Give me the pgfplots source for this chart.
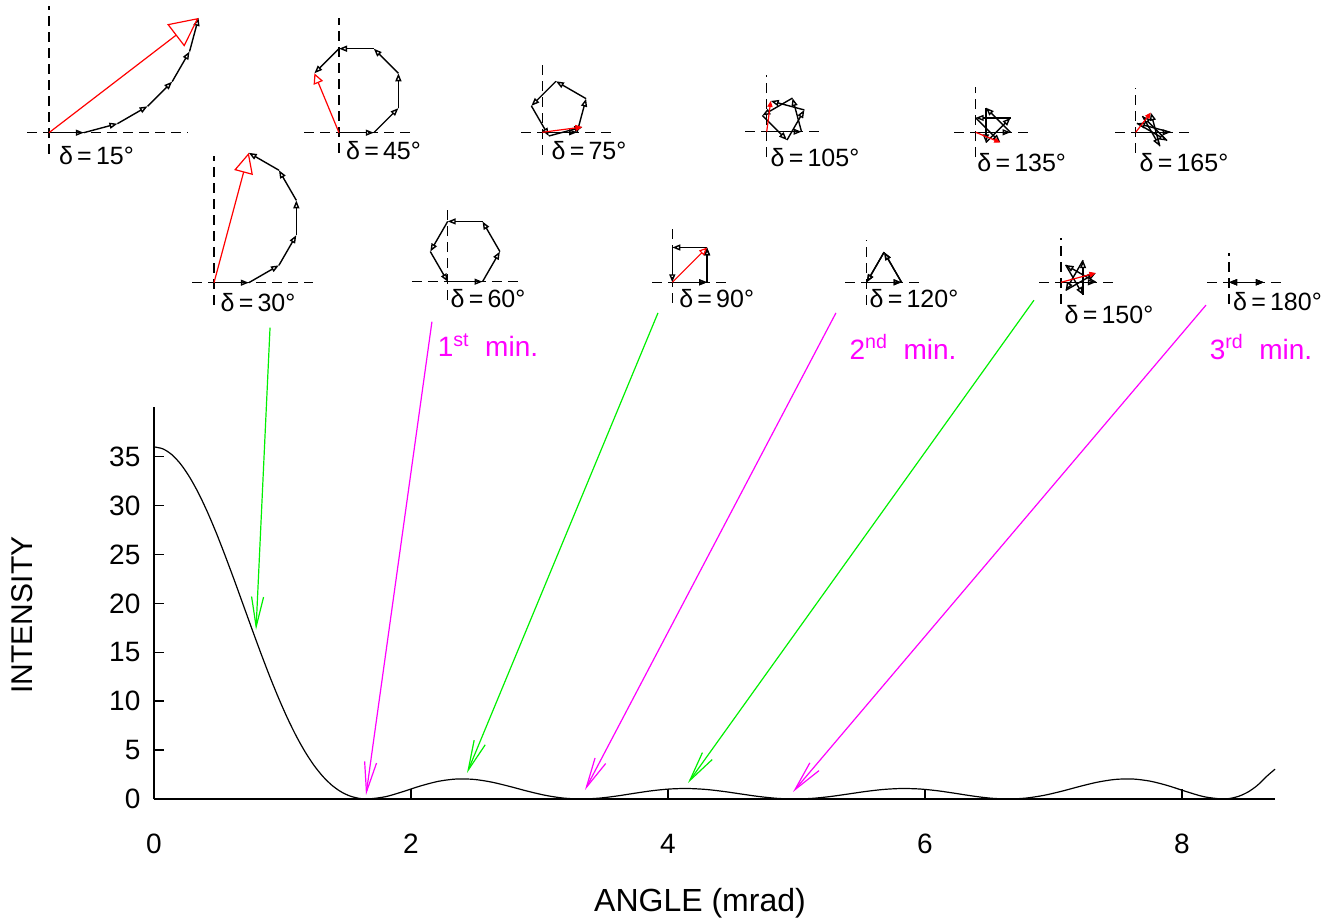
\documentclass[border=0pt]{standalone}
\usepackage{fontspec}
\setmainfont{Liberation Sans}
\usepackage{pgfplots}
\pgfplotsset{compat=1.18}
\usetikzlibrary{arrows.meta}
\definecolor{mag}{RGB}{255,0,255}
\definecolor{grn}{RGB}{0,240,0}
\definecolor{rd}{RGB}{255,0,0}
\pgfplotsset{
  blk/.style={black, line width=0.7pt, quiver={u=\thisrow{u},v=\thisrow{v}}, -{Triangle[open,length=4pt,width=3pt]}},
  rq/.style={rd, line width=0.6pt, quiver={u=\thisrow{u},v=\thisrow{v}}},
}
% #1 origin x (px), #2 origin y (px), #3..#6 extents of the dashed cross (phasor units), #7 plots
\newcommand\phasor[7]{%
\begin{axis}[at={({#1*0.5pt+(#3)*17.4pt},{(922-#2)*0.5pt+(#5)*17.4pt})}, anchor=south west,
  x=17.4pt, y=17.4pt, xmin=#3, xmax=#4, ymin=#5, ymax=#6, hide axis, clip=false, enlargelimits=false]
\addplot[black, line width=0.65pt, dash pattern=on 5pt off 3pt] coordinates {(#3,0) (#4,0)};
\addplot[black, line width=0.65pt, dash pattern=on 5pt off 3pt] coordinates {(0,#5) (0,#6)};
#7
\end{axis}}
\newcommand\dlab[3]{\node[font=\fontsize{12.5}{12.5}\selectfont, inner sep=0pt] at (#1pt,#2pt) {δ\,=\,#3°};}
\newcommand\mlab[4]{\node[font=\fontsize{14}{14}\selectfont, text=mag, inner sep=0pt] at (#1pt,#2pt) {#3\textsuperscript{#4}\ \ min.};}

\begin{document}
\begin{tikzpicture}
\path[use as bounding box] (0,0) rectangle (661pt,461pt);
\begin{axis}[at={(77pt,61.5pt)}, anchor=south west, width=560.5pt, height=196pt, scale only axis,
  xmin=0, xmax=8.724, ymin=0, ymax=40.08,
  axis x line*=bottom, axis y line*=left, axis line style={line width=0.7pt},
  xtick={0,2,4,6,8}, ytick={0,5,...,35}, tick align=inside, major tick length=5pt,
  tick style={black, line width=0.7pt},
  ticklabel style={font=\fontsize{14}{16}\selectfont},
  /pgf/number format/assume math mode=true,
  xticklabel shift=14pt, yticklabel shift=3.3pt,
  clip=false]
\addplot[black, line width=0.6pt, smooth] table {
x y
0 36
0.0693 35.80
0.1385 35.21
0.2078 34.24
0.2770 32.91
0.3463 31.27
0.4155 29.35
0.4848 27.20
0.5540 24.87
0.6233 22.43
0.6925 19.92
0.7618 17.40
0.8310 14.93
0.9003 12.55
0.9695 10.32
1.0388 8.261
1.1080 6.411
1.1773 4.791
1.2465 3.414
1.3158 2.285
1.3850 1.400
1.4543 0.7486
1.5235 0.3142
1.5928 0.0736
1.6620 0
1.8006 0.2320
1.9391 0.7599
2.0776 1.349
2.2161 1.8152
2.3546 2.0442
2.4931 2.0
2.6316 1.7164
2.7701 1.2781
2.9086 0.794
3.0471 0.3726
3.1856 0.0942
3.3241 0
3.4626 0.0851
3.6011 0.3044
3.7396 0.586
3.8781 0.8493
4.0166 1.0258
4.1551 1.072
4.2936 0.9789
4.4321 0.7733
4.5706 0.509
4.7091 0.2519
4.8476 0.0671
4.9861 0
5.1247 0.0671
5.2632 0.2519
5.4017 0.509
5.5402 0.7733
5.6787 0.9789
5.8172 1.072
5.9557 1.0258
6.0942 0.8493
6.2327 0.586
6.3712 0.3044
6.5097 0.0851
6.6482 0
6.7867 0.0942
6.9252 0.3726
7.0637 0.794
7.2022 1.2781
7.3407 1.7164
7.4792 2.0
7.6177 2.0442
7.7562 1.8152
7.8947 1.349
8.0332 0.7599
8.1717 0.2320
8.3102 0
8.3795 0.0736
8.4488 0.3142
8.5180 0.7486
8.5873 1.400
8.6565 2.285
8.7240 3.05
};
% annotation arrows
\addplot[grn, line width=0.6pt, -{Straight Barb[length=15pt,width=6pt]}] coordinates {(0.903,48.2) (0.794,17.3)};
\addplot[mag, line width=0.6pt, -{Straight Barb[length=15pt,width=6pt]}] coordinates {(2.163,48.8) (1.650,0.41)};
\addplot[grn, line width=0.6pt, -{Straight Barb[length=15pt,width=6pt]}] coordinates {(3.922,49.7) (2.436,2.66)};
\addplot[mag, line width=0.6pt, -{Straight Barb[length=15pt,width=6pt]}] coordinates {(5.307,49.7) (3.354,0.92)};
\addplot[grn, line width=0.6pt, -{Straight Barb[length=15pt,width=6pt]}] coordinates {(6.848,51.0) (4.156,1.64)};
\addplot[mag, line width=0.6pt, -{Straight Barb[length=15pt,width=6pt]}] coordinates {(8.187,50.5) (4.973,0.72)};
\end{axis}

% delta = 15
\phasor{49}{132.7}{-0.63}{4.0}{-0.61}{3.64}{
\addplot[blk] table[row sep=\\]{x y u v\\0 0 1 0\\1 0 0.9659 0.2588\\1.9659 0.2588 0.8660 0.5\\2.8319 0.7588 0.7071 0.7071\\3.5390 1.4659 0.5 0.8660\\4.0390 2.3319 0.2588 0.9659\\};
\addplot[rq, -{Triangle[open,length=14.4pt,width=14pt]}] table[row sep=\\]{x y u v\\0 0 4.2978 3.2978\\};
}
% delta = 45
\phasor{339}{132.7}{-1.0}{2.1}{-0.58}{3.3}{
\addplot[blk] table[row sep=\\]{x y u v\\0 0 1 0\\1 0 0.7071 0.7071\\1.7071 0.7071 0 1\\1.7071 1.7071 -0.7071 0.7071\\1 2.4142 -1 0\\0 2.4142 -0.7071 -0.7071\\};
\addplot[rq, -{Triangle[open,length=5.2pt,width=5pt]}] table[row sep=\\]{x y u v\\0 0 -0.7071 1.7071\\};
}
% delta = 75
\phasor{542.3}{132.3}{-0.61}{2.05}{-0.65}{2.02}{
\addplot[blk] table[row sep=\\]{x y u v\\0 0 1 0\\1 0 0.2588 0.9659\\1.2588 0.9659 -0.8660 0.5\\0.3928 1.4659 -0.7071 -0.7071\\-0.3143 0.7588 0.5 -0.8660\\0.1857 -0.1072 0.9659 0.2588\\};
\addplot[rq, -{Triangle[length=3.5pt,width=3pt]}] table[row sep=\\]{x y u v\\0 0 1.1516 0.1516\\};
}
% delta = 105
\phasor{766.7}{131.7}{-0.62}{1.62}{-0.73}{1.63}{
\addplot[blk] table[row sep=\\]{x y u v\\0 0 1 0\\1 0 -0.2588 0.9659\\0.7412 0.9659 -0.8660 -0.5\\-0.1248 0.4659 0.7071 -0.7071\\0.5823 -0.2412 0.5 0.8660\\1.0823 0.6248 -0.9659 0.2588\\};
\addplot[rq, -{Triangle[length=3pt,width=2.6pt]}] table[row sep=\\]{x y u v\\0 0 0.1164 0.8836\\};
}
% delta = 135
\phasor{975.7}{132.3}{-0.62}{1.65}{-0.71}{1.30}{
\addplot[blk] table[row sep=\\]{x y u v\\0 0 1 0\\1 0 -0.7071 0.7071\\0.2929 0.7071 0 -1\\0.2929 -0.2929 0.7071 0.7071\\1 0.4142 -1 0\\0 0.4142 0.7071 -0.7071\\};
\addplot[rq, -{Triangle[length=3pt,width=2.6pt]}] table[row sep=\\]{x y u v\\0 0 0.7071 -0.2929\\};
}
% delta = 165
\phasor{1135.7}{132.3}{-0.59}{1.68}{-0.59}{1.27}{
\addplot[blk] table[row sep=\\]{x y u v\\0 0 1 0\\1 0 -0.9659 0.2588\\0.0341 0.2588 0.8660 -0.5\\0.9001 -0.2412 -0.7071 0.7071\\0.1930 0.4659 0.5 -0.8660\\0.6930 -0.4001 -0.2588 0.9659\\};
\addplot[rq, -{Triangle[length=3pt,width=2.6pt]}] table[row sep=\\]{x y u v\\0 0 0.4342 0.5658\\};
}
% delta = 30
\phasor{214}{282.7}{-0.63}{2.84}{-0.64}{3.64}{
\addplot[blk] table[row sep=\\]{x y u v\\0 0 1 0\\1 0 0.8660 0.5\\1.8660 0.5 0.5 0.8660\\2.3660 1.3660 0 1\\2.3660 2.3660 -0.5 0.8660\\1.8660 3.2320 -0.8660 0.5\\};
\addplot[rq, -{Triangle[open,length=10.2pt,width=9.6pt]}] table[row sep=\\]{x y u v\\0 0 1 3.7320\\};
}
% delta = 60
\phasor{447.7}{281.7}{-1.03}{2.02}{-0.53}{2.2}{
\addplot[blk] table[row sep=\\]{x y u v\\0 0 1 0\\1 0 0.5 0.8660\\1.5 0.8660 -0.5 0.8660\\1 1.7320 -1 0\\0 1.7320 -0.5 -0.8660\\-0.5 0.8660 0.5 -0.8660\\};
}
% delta = 90
\phasor{672.3}{282.3}{-0.58}{1.69}{-0.59}{1.65}{
\addplot[blk] table[row sep=\\]{x y u v\\0 0 1 0\\1 0 0 1\\1 1 -1 0\\0 1 0 -1\\0 0 1 0\\1 0 0 1\\};
\addplot[rq, -{Triangle[open,length=4pt,width=3.5pt]}] table[row sep=\\]{x y u v\\0 0 1 1\\};
}
% delta = 120
\phasor{866.7}{282.3}{-0.62}{1.62}{-0.65}{1.22}{
\addplot[blk] table[row sep=\\]{x y u v\\0 0 1 0\\1 0 -0.5 0.8660\\0.5 0.8660 -0.5 -0.8660\\0 0 1 0\\1 0 -0.5 0.8660\\0.5 0.8660 -0.5 -0.8660\\};
}
% delta = 150
\phasor{1061}{282.3}{-0.63}{1.64}{-0.62}{1.27}{
\addplot[blk] table[row sep=\\]{x y u v\\0 0 1 0\\1 0 -0.8660 0.5\\0.1340 0.5 0.5 -0.8660\\0.6340 -0.3660 0 1\\0.6340 0.6340 -0.5 -0.8660\\0.1340 -0.2320 0.8660 0.5\\};
\addplot[rq, -{Triangle[length=3.2pt,width=2.8pt]}] table[row sep=\\]{x y u v\\0 0 1 0.2680\\};
}
% delta = 180
\phasor{1229}{282.3}{-0.63}{1.64}{-0.62}{0.84}{
\addplot[blk] table[row sep=\\]{x y u v\\0 0 1 0\\1 0 -1 0\\0 0 1 0\\1 0 -1 0\\0 0 1 0\\1 0 -1 0\\};
}

% labels
\dlab{48.25}{383}{15}
\dlab{191.75}{385.5}{45}
\dlab{294.5}{385.5}{75}
\dlab{407.5}{382.25}{105}
\dlab{510.85}{379.75}{135}
\dlab{592}{379.75}{165}
\dlab{129}{309.5}{30}
\dlab{244}{311.75}{60}
\dlab{358.35}{311.5}{90}
\dlab{457}{311.5}{120}
\dlab{554.5}{303.5}{150}
\dlab{638.75}{310}{180}
\mlab{244}{288.5}{1}{st}
\mlab{451.5}{287.5}{2}{nd}
\mlab{630.5}{287.5}{3}{rd}
\node[font=\fontsize{15}{15}\selectfont, rotate=90, inner sep=0pt] at (11pt,153.5pt) {INTENSITY};
\node[font=\fontsize{16}{16}\selectfont, inner sep=0pt] at (350pt,9.5pt) {ANGLE (mrad)};
\end{tikzpicture}
\end{document}
